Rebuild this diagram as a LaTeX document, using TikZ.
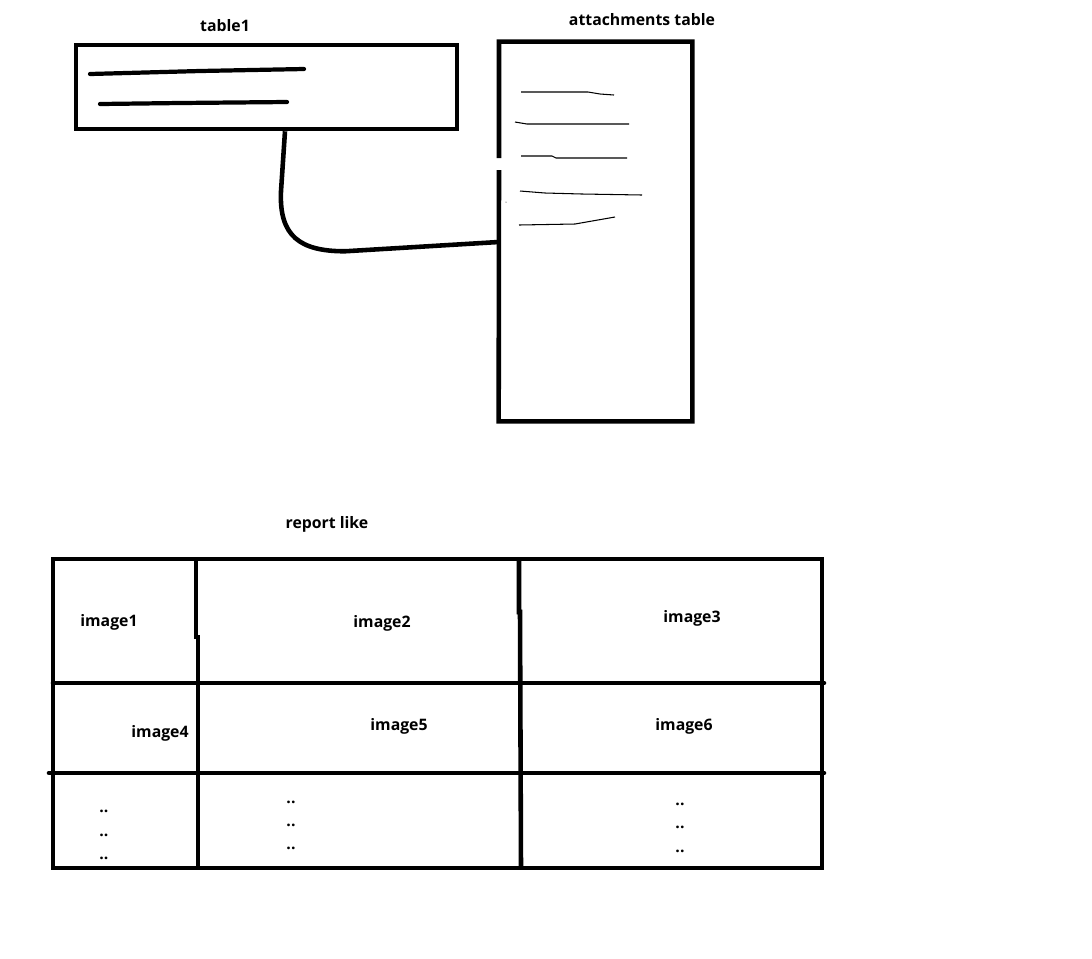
\documentclass[tikz,border=0pt]{standalone}
\usepackage{fontspec}
\setmainfont{Open Sans}
\tikzset{box/.style={line width=2.6pt},
  scrib/.style={line width=2.4pt, line cap=round},
  thinline/.style={line width=0.6pt},
  lbl/.style={font=\fontsize{9}{11}\selectfont\bfseries, inner sep=1pt},
  dots/.style={font=\fontsize{9}{11}\selectfont\bfseries, inner sep=0pt}}
\begin{document}
\begin{tikzpicture}[x=0.02cm, y=-0.02cm]
\useasboundingbox (0,0) rectangle (1092,958);
\node[box, draw, minimum width=7.62cm, minimum height=1.68cm, inner sep=0pt] (t1) at (266.5,87) {};
\node[minimum width=3.86cm, minimum height=7.58cm, inner sep=0pt] (att) at (595.5,231.5) {};
\node[lbl] (t1lbl) at (225,26) {table1};
\node[lbl] (attlbl) at (642,20) {attachments table};
\draw[box] (499,158) |- (att.north east) |- (att.south west) -- (499,170);
\draw[scrib] (90,74) -- (200,71) -- (304,69);
\draw[scrib] (100,104) -- (180,103) -- (287,102);
\draw[thinline] (521,92) -- (588,92) -- (600,94) -- (614,95);
\draw[thinline] (515,122) -- (527,124) -- (629,124);
\draw[thinline] (521,156) -- (552,156) -- (556,158) -- (627,158);
\draw[thinline] (520,191) -- (545,193) -- (582,194) -- (642,195);
\draw[thinline] (519,225) -- (575,224) -- (615,217);
\fill (506,202) circle (0.5);
\draw[box] ([xshift=0.37cm]t1.south) -- ++(-4,60) .. controls +(-2,45) and +(-45,0) .. ++(64,60) -- ([yshift=-0.21cm]att.west);
\node[lbl] (rep) at (327,524) {report like};
\draw[box] (53,559) rectangle (822,868);
\draw[box] (196,559) -- (196,637) -- (198,637) -- (198,868);
\draw[box] (519,559) -- (519,612) -- (520,612) -- (521,868);
\draw[box, line cap=round] (53,683) -- (824,683);
\draw[box, line cap=round] (49,773) -- (824,773);
\node[lbl] (img1) at (109,622) {image1};
\node[lbl] (img2) at (382,623) {image2};
\node[lbl] (img3) at (692,618) {image3};
\node[lbl] (img4) at (160,733) {image4};
\node[lbl] (img5) at (399,726) {image5};
\node[lbl] (img6) at (684,726) {image6};
\foreach \x/\ys [count=\c] in {104/{811,835,858}, 291/{802,825,848}, 680/{804,827,851}}
  \foreach \y [count=\r] in \ys
    \node[dots] (dd\c\r) at (\x,\y) {..};
\end{tikzpicture}
\end{document}
